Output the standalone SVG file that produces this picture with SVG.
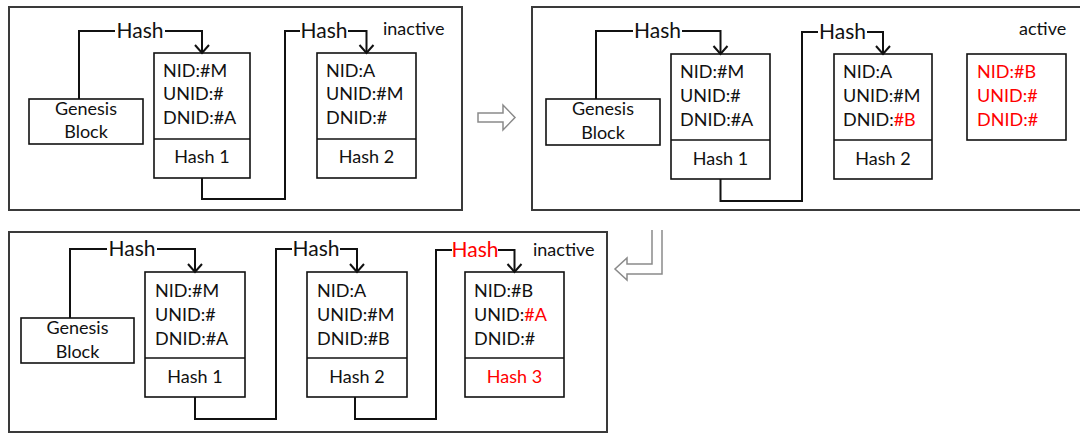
<svg xmlns="http://www.w3.org/2000/svg" width="1080" height="434" viewBox="0 0 1080 434">
  <style>
    .panel { fill: #fff; stroke: #3a3a3a; stroke-width: 2; }
    .box { fill: #fff; stroke: #111; stroke-width: 1.6; }
    .link { fill: none; stroke: #111; stroke-width: 2; }
    .flow { fill: #fff; stroke: #8a8a8a; stroke-width: 1.5; stroke-linejoin: miter; }
    text { font-family: Lato, "Open Sans", "Liberation Sans", sans-serif; fill: #111; }
    .t { font-size: 18px; }
    .c { text-anchor: middle; }
    .h { font-size: 21px; text-anchor: middle; }
    .st { font-size: 18px; }
    .red { fill: #ff0000; }
  </style>
  <defs>
    <marker id="vee" viewBox="-10 -10 20 20" markerWidth="20" markerHeight="20" refX="0" refY="0" orient="auto" markerUnits="userSpaceOnUse">
      <path d="M-8,-7 L0,0 L-8,7" fill="none" stroke="#111" stroke-width="2"/>
    </marker>
  </defs>

  <rect width="1080" height="434" fill="#fff"/>

  <!-- state frames -->
  <rect id="panel-before" class="panel" x="9" y="7" width="453" height="203"/>
  <rect id="panel-active" class="panel" x="532" y="7" width="552" height="203"/>
  <rect id="panel-after" class="panel" x="9" y="232" width="598" height="200"/>

  <!-- transition arrows -->
  <g id="flow-arrows">
    <path class="flow" d="M478,113 H503 V105 L515,117.5 L503,130 V122 H478 Z"/>
    <path class="flow" d="M652,230 V264 H627 V258 L615,269 L627,280 V274 H662 V230"/>
  </g>

  <!-- ===== panel 1: inactive ===== -->
  <g id="p1-genesis">
    <rect class="box" x="29" y="99" width="114" height="45"/>
    <text class="t c" x="86" y="115">Genesis</text>
    <text class="t c" x="86" y="138">Block</text>
  </g>
  <g id="p1-block1">
    <rect class="box" x="154" y="53" width="96" height="125"/>
    <line class="box" x1="154" y1="139" x2="250" y2="139"/>
    <text class="t" x="163" y="77">NID:#M</text>
    <text class="t" x="163" y="100">UNID:#</text>
    <text class="t" x="163" y="124">DNID:#A</text>
    <text class="t c" x="202" y="163">Hash 1</text>
  </g>
  <g id="p1-block2">
    <rect class="box" x="317" y="53" width="99" height="125"/>
    <line class="box" x1="317" y1="139" x2="416" y2="139"/>
    <text class="t" x="326" y="77">NID:A</text>
    <text class="t" x="326" y="100">UNID:#M</text>
    <text class="t" x="326" y="124">DNID:#</text>
    <text class="t c" x="366.5" y="163">Hash 2</text>
  </g>
  <text id="p1-state" class="st" x="383" y="35">inactive</text>

  <!-- ===== panel 2: active ===== -->
  <g id="p2-genesis">
    <rect class="box" x="546" y="99" width="114" height="46"/>
    <text class="t c" x="603" y="115">Genesis</text>
    <text class="t c" x="603" y="139">Block</text>
  </g>
  <g id="p2-block1">
    <rect class="box" x="671" y="54" width="99" height="125"/>
    <line class="box" x1="671" y1="140" x2="770" y2="140"/>
    <text class="t" x="680" y="78">NID:#M</text>
    <text class="t" x="680" y="102">UNID:#</text>
    <text class="t" x="680" y="126">DNID:#A</text>
    <text class="t c" x="720.5" y="165">Hash 1</text>
  </g>
  <g id="p2-block2">
    <rect class="box" x="834" y="54" width="98" height="125"/>
    <line class="box" x1="834" y1="140" x2="932" y2="140"/>
    <text class="t" x="843" y="78">NID:A</text>
    <text class="t" x="843" y="102">UNID:#M</text>
    <text class="t" x="843" y="126">DNID:<tspan class="red">#B</tspan></text>
    <text class="t c" x="883" y="165">Hash 2</text>
  </g>
  <g id="p2-pending">
    <rect class="box" x="967" y="54" width="99" height="86"/>
    <text class="t red" x="977" y="78">NID:#B</text>
    <text class="t red" x="977" y="102">UNID:#</text>
    <text class="t red" x="977" y="126">DNID:#</text>
  </g>
  <text id="p2-state" class="st" x="1019" y="35">active</text>

  <!-- ===== panel 3: inactive ===== -->
  <g id="p3-genesis">
    <rect class="box" x="21" y="318" width="113" height="45"/>
    <text class="t c" x="77.5" y="334">Genesis</text>
    <text class="t c" x="77.5" y="358">Block</text>
  </g>
  <g id="p3-block1">
    <rect class="box" x="145" y="272" width="100" height="125"/>
    <line class="box" x1="145" y1="358" x2="245" y2="358"/>
    <text class="t" x="155" y="297">NID:#M</text>
    <text class="t" x="155" y="321">UNID:#</text>
    <text class="t" x="155" y="345">DNID:#A</text>
    <text class="t c" x="195" y="383">Hash 1</text>
  </g>
  <g id="p3-block2">
    <rect class="box" x="307" y="272" width="100" height="125"/>
    <line class="box" x1="307" y1="358" x2="407" y2="358"/>
    <text class="t" x="317" y="297">NID:A</text>
    <text class="t" x="317" y="321">UNID:#M</text>
    <text class="t" x="317" y="345">DNID:#B</text>
    <text class="t c" x="357" y="383">Hash 2</text>
  </g>
  <g id="p3-block3">
    <rect class="box" x="465" y="272" width="99" height="125"/>
    <line class="box" x1="465" y1="358" x2="564" y2="358"/>
    <text class="t" x="474" y="297">NID:#B</text>
    <text class="t" x="474" y="321">UNID:<tspan class="red">#A</tspan></text>
    <text class="t" x="474" y="345">DNID:#</text>
    <text class="t c red" x="514.5" y="383">Hash 3</text>
  </g>
  <text id="p3-state" class="st" x="533" y="256">inactive</text>

  <!-- hash links between blocks -->
  <g id="connectors">
    <!-- panel 1 -->
    <path class="link" d="M79,99 V31 H115"/>
    <path class="link" d="M165,31 H202 V53" marker-end="url(#vee)"/>
    <text class="h" x="140" y="38">Hash</text>
    <path class="link" d="M202,178 V199 H285 V31 H300"/>
    <path class="link" d="M348,31 H366.5 V53" marker-end="url(#vee)"/>
    <text class="h" x="324" y="38">Hash</text>

    <!-- panel 2 -->
    <path class="link" d="M596,99 V31 H633"/>
    <path class="link" d="M682,31 H720.5 V54" marker-end="url(#vee)"/>
    <text class="h" x="657.5" y="38">Hash</text>
    <path class="link" d="M720.5,179 V201 H802 V32 H818"/>
    <path class="link" d="M867,32 H883 V54" marker-end="url(#vee)"/>
    <text class="h" x="842.5" y="39">Hash</text>

    <!-- panel 3 -->
    <path class="link" d="M70,318 V249 H107"/>
    <path class="link" d="M157,249 H195 V272" marker-end="url(#vee)"/>
    <text class="h" x="132" y="256">Hash</text>
    <path class="link" d="M195,397 V419 H276 V249 H292"/>
    <path class="link" d="M340,249 H357 V272" marker-end="url(#vee)"/>
    <text class="h" x="316" y="256">Hash</text>
    <path class="link" d="M355,397 V419 H436 V250 H452"/>
    <path class="link" d="M498,250 H514.5 V272" marker-end="url(#vee)"/>
    <text class="h red" x="475" y="257">Hash</text>
  </g>
</svg>
